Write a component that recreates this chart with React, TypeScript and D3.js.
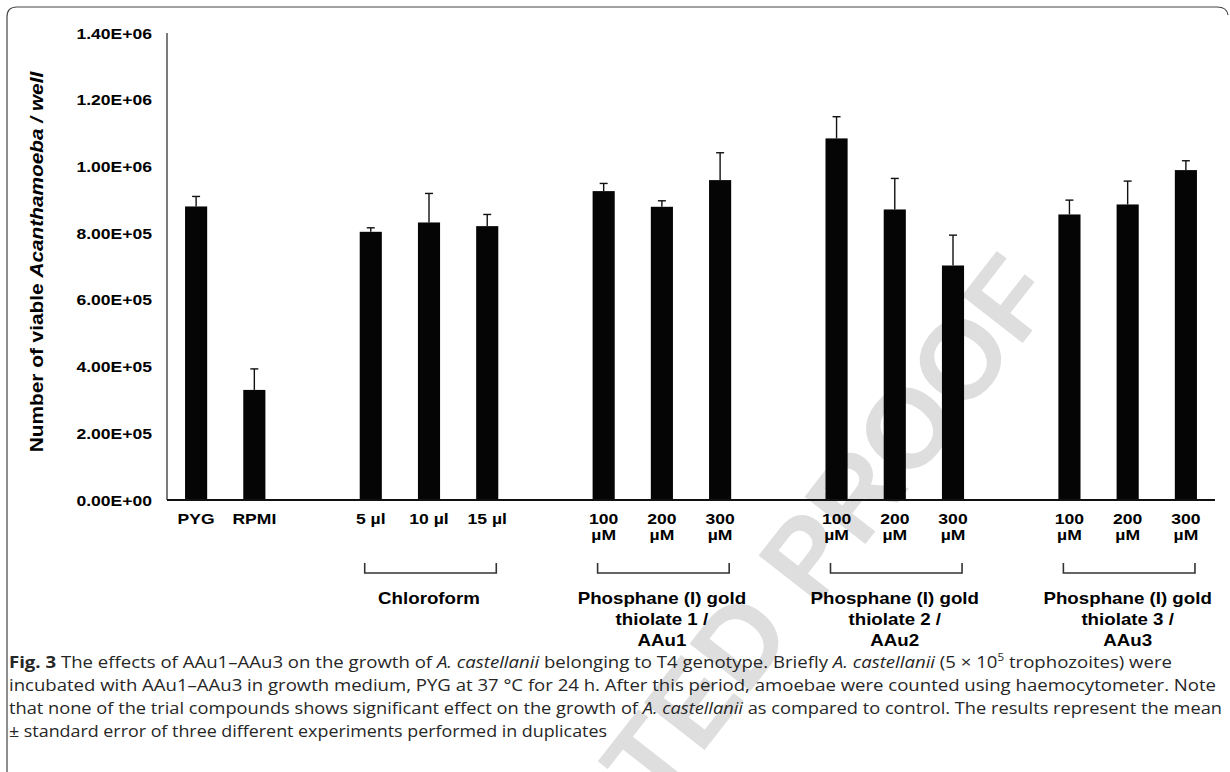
import React, { useEffect, useRef } from 'react';
import * as d3 from 'd3';

// slots on the x axis (gap* = empty slot between groups)
const categories = ['PYG', 'RPMI', 'gap1', 'C5', 'C10', 'C15', 'gap2', 'A1-100', 'A1-200', 'A1-300', 'gap3', 'A2-100', 'A2-200', 'A2-300', 'gap4', 'A3-100', 'A3-200', 'A3-300'];
const tickLabels = [['PYG'], ['RPMI'], [], ['5 µl'], ['10 µl'], ['15 µl'], [], ['100', 'µM'], ['200', 'µM'], ['300', 'µM'], [], ['100', 'µM'], ['200', 'µM'], ['300', 'µM'], [], ['100', 'µM'], ['200', 'µM'], ['300', 'µM']];
const means = [880000, 330000, null, 804000, 832000, 821000, null, 926000, 879000, 959000, null, 1084000, 871000, 703000, null, 856000, 886000, 989000];
const errors = [30000, 63000, null, 12000, 87000, 35000, null, 23000, 18000, 82000, null, 65000, 93000, 91000, null, 43000, 70000, 28000];
const yTicks = [0, 200000, 400000, 600000, 800000, 1000000, 1200000, 1400000];
const groups = [
  { first: 'C5', last: 'C15', name: ['Chloroform'] },
  { first: 'A1-100', last: 'A1-300', name: ['Phosphane (I) gold', 'thiolate 1 /', 'AAu1'] },
  { first: 'A2-100', last: 'A2-300', name: ['Phosphane (I) gold', 'thiolate 2 /', 'AAu2'] },
  { first: 'A3-100', last: 'A3-300', name: ['Phosphane (I) gold', 'thiolate 3 /', 'AAu3'] },
];

const W = 1230;
const H = 772;
const font = '"Liberation Sans", Arial, sans-serif';
const capFont = '"Open Sans", "Noto Sans", sans-serif';
const sx = 1.17; // the original chart font is wider than Arial

export default function App() {
  const ref = useRef<SVGSVGElement>(null);

  useEffect(() => {
    const svg = d3.select(ref.current);
    svg.selectAll('*').remove();

    // watermark
    svg.append('text')
      .attr('transform', 'translate(1060 295) rotate(-52)')
      .attr('text-anchor', 'end')
      .attr('font-family', font)
      .attr('font-weight', 'bold')
      .attr('font-size', 112)
      .attr('fill', '#dedede')
      .text('ACCEPTED PROOF');

    // frame
    svg.append('path')
      .attr('d', 'M7,772 V17 Q7,7 17,7 H1217 Q1227,7 1228,15')
      .attr('fill', 'none')
      .attr('stroke', '#444')
      .attr('stroke-width', 1.2);

    const left = 167, right = 1215, top = 33, bottom = 500;
    const x = d3.scaleBand<string>().domain(categories).range([left, right]).paddingInner(0.62).paddingOuter(0.31);
    const y = d3.scaleLinear().domain([0, 1400000]).range([bottom, top]);
    const bw = x.bandwidth();

    // y tick labels
    svg.append('g').selectAll('text').data(yTicks).enter()
      .append('text')
      .attr('transform', d => `translate(152 ${y(d) + 5.5}) scale(${sx} 1)`)
      .attr('text-anchor', 'end')
      .attr('font-family', font)
      .attr('font-weight', 'bold')
      .attr('font-size', 15)
      .text(d => d3.format('.2e')(d).replace('e', 'E').replace(/E([+-])(\d)$/, 'E$10$2').toUpperCase());

    // y title
    const title = svg.append('text')
      .attr('transform', `translate(43 262) rotate(-90) scale(${sx} 1)`)
      .attr('text-anchor', 'middle')
      .attr('font-family', font)
      .attr('font-weight', 'bold')
      .attr('font-size', 17.8);
    title.append('tspan').text('Number of viable ');
    title.append('tspan').attr('font-style', 'italic').text('Acanthamoeba / well');

    // bars
    const idx = d3.range(categories.length).filter(i => means[i] != null);
    svg.append('g').selectAll('rect').data(idx).enter()
      .append('rect')
      .attr('x', i => x(categories[i])!)
      .attr('y', i => y(means[i]!))
      .attr('width', bw)
      .attr('height', i => bottom - y(means[i]!))
      .attr('fill', '#050505');

    // error bars (upper only)
    const eb = svg.append('g').attr('stroke', '#111').attr('stroke-width', 1.4);
    idx.forEach(i => {
      const cx = x(categories[i])! + bw / 2;
      const yt = y(means[i]! + errors[i]!);
      eb.append('line').attr('x1', cx).attr('x2', cx).attr('y1', y(means[i]!)).attr('y2', yt);
      eb.append('line').attr('x1', cx - 4).attr('x2', cx + 4).attr('y1', yt).attr('y2', yt);
    });

    // axes
    svg.append('line').attr('x1', left).attr('x2', left).attr('y1', top).attr('y2', bottom)
      .attr('stroke', '#222').attr('stroke-width', 1.2);
    svg.append('line').attr('x1', left).attr('x2', right).attr('y1', bottom).attr('y2', bottom)
      .attr('stroke', '#111').attr('stroke-width', 2);

    // x labels
    categories.forEach((c, i) => {
      const cx = x(c)! + bw / 2;
      tickLabels[i].forEach((t, k) => {
        svg.append('text')
          .attr('transform', `translate(${cx} ${524 + k * 16}) scale(${sx} 1)`)
          .attr('text-anchor', 'middle')
          .attr('font-family', font)
          .attr('font-weight', 'bold')
          .attr('font-size', 15)
          .text(t);
      });
    });

    // group brackets and names
    groups.forEach(g => {
      const x1 = x(g.first)! + 5;
      const x2 = x(g.last)! + bw - 2;
      svg.append('path')
        .attr('d', `M${x1},563 V573 H${x2} V563`)
        .attr('fill', 'none')
        .attr('stroke', '#333')
        .attr('stroke-width', 1.6);
      const cx = (x(g.first)! + x(g.last)! + bw) / 2;
      g.name.forEach((t, k) => {
        svg.append('text')
          .attr('transform', `translate(${cx} ${604 + k * 21}) scale(${sx} 1)`)
          .attr('text-anchor', 'middle')
          .attr('font-family', font)
          .attr('font-weight', 'bold')
          .attr('font-size', 16)
          .text(t);
      });
    });

    // caption
    const cap = svg.append('g').attr('font-family', capFont).attr('font-size', 16).attr('fill', '#262626');
    const line = (yy: number, w: number) => cap.append('text')
      .attr('x', 9).attr('y', yy)
      .attr('textLength', w).attr('lengthAdjust', 'spacingAndGlyphs');
    const l1 = line(668, 1163);
    l1.append('tspan').attr('font-weight', 'bold').text('Fig. 3');
    l1.append('tspan').text(' The effects of AAu1–AAu3 on the growth of ');
    l1.append('tspan').attr('font-style', 'italic').text('A. castellanii');
    l1.append('tspan').text(' belonging to T4 genotype. Briefly ');
    l1.append('tspan').attr('font-style', 'italic').text('A. castellanii');
    l1.append('tspan').text(' (5 × 10');
    l1.append('tspan').attr('font-size', 10).attr('dy', -7).text('5');
    l1.append('tspan').attr('dy', 7).text(' trophozoites) were');
    const l2 = line(691, 1207);
    l2.text('incubated with AAu1–AAu3 in growth medium, PYG at 37 °C for 24 h. After this period, amoebae were counted using haemocytometer. Note');
    const l3 = line(714, 1213);
    l3.append('tspan').text('that none of the trial compounds shows significant effect on the growth of ');
    l3.append('tspan').attr('font-style', 'italic').text('A. castellanii');
    l3.append('tspan').text(' as compared to control. The results represent the mean');
    const l4 = line(737, 598);
    l4.text('± standard error of three different experiments performed in duplicates');
  }, []);

  return (
    <svg ref={ref} width={W} height={H} style={{ position: 'absolute', left: 0, top: 0, background: '#fff' }} />
  );
}
